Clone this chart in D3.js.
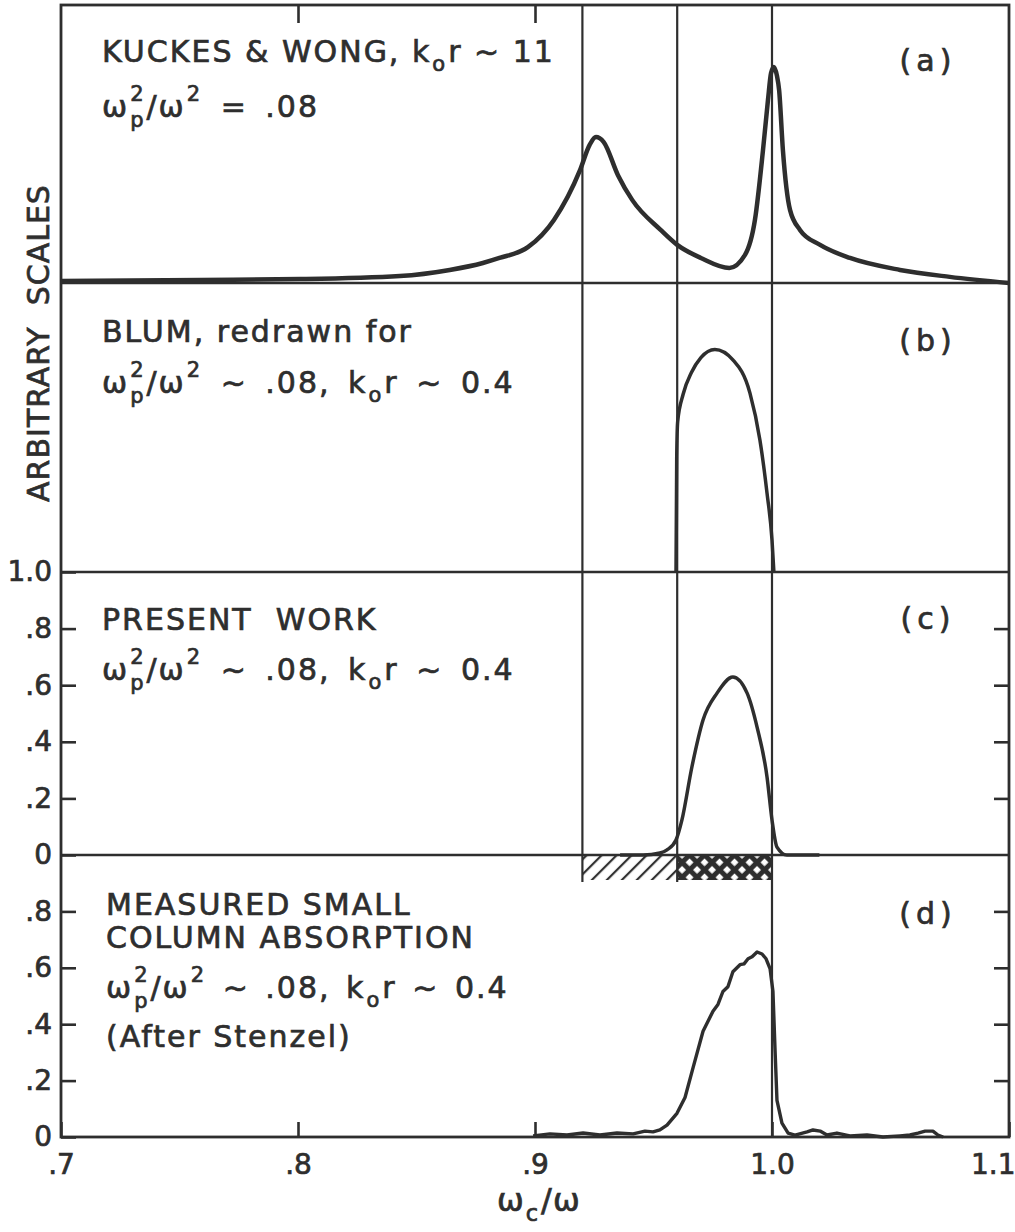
<!DOCTYPE html>
<html>
<head>
<meta charset="utf-8">
<script src="https://cdn.jsdelivr.net/npm/d3@7"></script>
<style>
  body { margin: 0; background: #fff; }
  text { font-family: "DejaVu Sans", sans-serif; fill: #2e2e2e; stroke: #2e2e2e; stroke-width: 0.7px; white-space: pre; }
</style>
</head>
<body>
<svg width="1015" height="1232"></svg>
<script>
// values: x is wc/w, y is arbitrary / absorption units
const xTicks = [0.7, 0.8, 0.9, 1.0, 1.1];
const xTickLabels = [".7", ".8", ".9", "1.0", "1.1"];
const yTicks = [0, 0.2, 0.4, 0.6, 0.8, 1.0];
const yTickLabels = ["0", ".2", ".4", ".6", ".8", "1.0"];
const guideLines = [0.92, 0.96, 1.0];
const hatchBands = [[0.92, 0.96, "diag"], [0.96, 1.0, "cross"]];

const kuckesWong = [
  [0.700, 0.007], [0.759, 0.011], [0.801, 0.014], [0.843, 0.025], [0.864, 0.047],
  [0.878, 0.072], [0.885, 0.090], [0.897, 0.129], [0.908, 0.227], [0.919, 0.406],
  [0.923, 0.496], [0.9257, 0.525], [0.929, 0.507], [0.935, 0.388], [0.941, 0.299],
  [0.953, 0.191], [0.960, 0.137], [0.970, 0.090], [0.982, 0.054], [0.9886, 0.101],
  [0.9928, 0.227], [0.9962, 0.478], [0.9983, 0.658], [0.9996, 0.755], [1.0008, 0.777],
  [1.0021, 0.745], [1.0030, 0.694], [1.0046, 0.478], [1.0076, 0.263], [1.0118, 0.191],
  [1.0203, 0.137], [1.0329, 0.090], [1.054, 0.047], [1.075, 0.022], [1.100, 0.000]
];

const blum = [
  [0.9595, 0], [0.9598, 0.40], [0.9602, 0.52], [0.9625, 0.615], [0.9660, 0.690],
  [0.9700, 0.742], [0.9759, 0.770], [0.9835, 0.734], [0.9907, 0.619], [0.9949, 0.457],
  [0.9979, 0.273], [1.0000, 0.111], [1.0008, 0]
];

const presentWork = [
  [0.9359, 0], [0.9456, 0], [0.9527, 0.007], [0.9557, 0.018], [0.9595, 0.053],
  [0.9620, 0.124], [0.9662, 0.311], [0.9709, 0.477], [0.9768, 0.572], [0.9835, 0.629],
  [0.9895, 0.572], [0.9937, 0.452], [0.9979, 0.276], [1.0000, 0.124], [1.0021, 0.028],
  [1.0063, 0], [1.0200, 0]
];

const stenzel = [
  [0.8992, 0.004], [0.9063, 0.011], [0.9135, 0.007], [0.9203, 0.014], [0.9274, 0.007],
  [0.9346, 0.014], [0.9414, 0.011], [0.9464, 0.021], [0.9498, 0.018], [0.9527, 0.025],
  [0.9557, 0.042], [0.9599, 0.084], [0.9633, 0.140], [0.9667, 0.246], [0.9709, 0.375],
  [0.9751, 0.446], [0.9772, 0.470], [0.9793, 0.516], [0.9814, 0.533], [0.9835, 0.586],
  [0.9865, 0.611], [0.9882, 0.614], [0.9899, 0.632], [0.9916, 0.639], [0.9937, 0.656],
  [0.9958, 0.649], [0.9975, 0.632], [0.9992, 0.596], [1.0004, 0.516], [1.0013, 0.305],
  [1.0021, 0.130], [1.0042, 0.049], [1.0068, 0.014], [1.0097, 0.007], [1.0148, 0.018],
  [1.0173, 0.025], [1.0203, 0.021], [1.0232, 0.007], [1.0274, 0.014], [1.0329, 0.004],
  [1.0401, 0.007], [1.0468, 0], [1.0540, 0.004], [1.0582, 0.007], [1.0616, 0.014],
  [1.0646, 0.021], [1.0679, 0.021], [1.0700, 0.007], [1.0722, 0]
];

const ink = "#2e2e2e";
const svg = d3.select("svg");

const x = d3.scaleLinear().domain([0.7, 1.1]).range([61, 1009]);
const yA = d3.scaleLinear().domain([0, 1]).range([283, 5]);
const yB = d3.scaleLinear().domain([0, 1]).range([572, 283]);
const yC = d3.scaleLinear().domain([0, 1]).range([855, 572]);
const yD = d3.scaleLinear().domain([0, 1]).range([1137, 855]);

// hatch patterns
const defs = svg.append("defs");
defs.append("pattern")
    .attr("id", "diag")
    .attr("patternUnits", "userSpaceOnUse")
    .attr("width", 10.6).attr("height", 10.6)
    .attr("patternTransform", "rotate(45)")
  .append("line")
    .attr("x1", 2).attr("y1", 0).attr("x2", 2).attr("y2", 10.6)
    .attr("stroke", ink).attr("stroke-width", 2.2);
const cross = defs.append("pattern")
    .attr("id", "cross")
    .attr("patternUnits", "userSpaceOnUse")
    .attr("width", 10.6).attr("height", 10.6)
    .attr("patternTransform", "rotate(45)");
cross.append("rect").attr("width", 10.6).attr("height", 10.6).attr("fill", ink);
cross.append("rect").attr("x", 2.8).attr("y", 2.8).attr("width", 5.6).attr("height", 5.6).attr("fill", "#fff");

// hatched bands under panel (c)
svg.append("g").selectAll("rect")
  .data(hatchBands)
  .enter().append("rect")
    .attr("x", d => x(d[0]))
    .attr("y", yC(0))
    .attr("width", d => x(d[1]) - x(d[0]))
    .attr("height", 25)
    .attr("fill", d => "url(#" + d[2] + ")");

// frame and panel dividers
svg.append("rect")
    .attr("x", x(0.7)).attr("y", yA(1))
    .attr("width", x(1.1) - x(0.7)).attr("height", yD(0) - yA(1))
    .attr("fill", "none").attr("stroke", ink).attr("stroke-width", 2.8);

svg.append("g").selectAll("line")
  .data([yA(0), yB(0), yC(0)])
  .enter().append("line")
    .attr("x1", x(0.7)).attr("x2", x(1.1))
    .attr("y1", d => d).attr("y2", d => d)
    .attr("stroke", ink).attr("stroke-width", 2.6);

// vertical reference lines
svg.append("g").selectAll("line")
  .data(guideLines)
  .enter().append("line")
    .attr("x1", d => x(d)).attr("x2", d => x(d))
    .attr("y1", yA(1))
    .attr("y2", d => d < 1 ? yC(0) + 27 : yD(0))
    .attr("stroke", ink).attr("stroke-width", 2.2);

function styleAxis(g, size) {
  g.select(".domain").remove();
  g.attr("font-family", null).attr("font-size", null);
  g.selectAll("line").attr("stroke", ink).attr("stroke-width", 2.6);
  g.selectAll("text").attr("fill", ink).style("font-size", size + "px");
}

svg.append("g").attr("transform", `translate(${x(0.7)},0)`)
  .call(d3.axisLeft(yC).tickValues(yTicks).tickFormat((d, i) => yTickLabels[i]).tickSize(-15).tickPadding(9))
  .call(g => styleAxis(g, 28));
svg.append("g").attr("transform", `translate(${x(0.7)},0)`)
  .call(d3.axisLeft(yD).tickValues(yTicks.slice(0, 5)).tickFormat((d, i) => yTickLabels[i]).tickSize(-15).tickPadding(9))
  .call(g => styleAxis(g, 28));
[yC, yD].forEach(s => {
  svg.append("g").attr("transform", `translate(${x(1.1)},0)`)
    .call(d3.axisRight(s).tickValues(yTicks.slice(1, 5)).tickFormat("").tickSize(-15))
    .call(g => styleAxis(g, 28));
});
svg.append("g").attr("transform", `translate(0,${yD(0)})`)
  .call(d3.axisBottom(x).tickValues(xTicks).tickFormat((d, i) => xTickLabels[i]).tickSize(-15).tickPadding(17))
  .call(g => styleAxis(g, 28))
  .call(g => g.selectAll(".tick:last-of-type text").attr("text-anchor", "end").attr("x", 6));
svg.append("g").attr("transform", `translate(0,${yA(1)})`)
  .call(d3.axisTop(x).tickValues([0.8, 0.9]).tickFormat("").tickSize(-18))
  .call(g => styleAxis(g, 28));

// curves
function curve(data, ys, width, type) {
  svg.append("path")
    .datum(data)
    .attr("fill", "none")
    .attr("stroke", ink)
    .attr("stroke-width", width)
    .attr("stroke-linejoin", "round")
    .attr("d", d3.line().x(d => x(d[0])).y(d => ys(d[1])).curve(type));
}
curve(kuckesWong, yA, 4.5, d3.curveMonotoneX);
curve(blum, yB, 3.5, d3.curveMonotoneX);
curve(presentWork, yC, 3.5, d3.curveMonotoneX);
curve(stenzel, yD, 3.4, d3.curveLinear);

// lettering with sub/superscripts
function rich(x0, y0, parts, size, spacing, wordGap) {
  let cx = x0;
  const small = size * 0.7;
  const up = -size * 0.52, down = size * 0.3;
  parts.forEach(p => {
    if (p[0] === "n") {
      const t = svg.append("text").attr("x", cx).attr("y", y0)
        .style("font-size", size + "px")
        .style("letter-spacing", spacing + "px")
        .style("word-spacing", (wordGap || 0) + "px")
        .text(p[1]);
      cx += t.node().getComputedTextLength();
    } else if (p[0] === "sup" || p[0] === "sub") {
      const t = svg.append("text").attr("x", cx + 1)
        .attr("y", y0 + (p[0] === "sup" ? up : down))
        .style("font-size", small + "px").text(p[1]);
      cx += t.node().getComputedTextLength() + 4;
    } else {
      const a = svg.append("text").attr("x", cx + 1).attr("y", y0 + up)
        .style("font-size", small + "px").text(p[1]);
      const b = svg.append("text").attr("x", cx + 1).attr("y", y0 + down + 1)
        .style("font-size", small + "px").text(p[2]);
      cx += Math.max(a.node().getComputedTextLength(), b.node().getComputedTextLength()) + 4;
    }
  });
}

const F = 30;
const S = 2;
const omegaLine = [["n", "ω"], ["ss", "2", "p"], ["n", "/ω"], ["sup", "2"], ["n", " ~ .08, k"], ["sub", "o"], ["n", "r ~ 0.4"]];

rich(102, 62, [["n", "KUCKES & WONG, k"], ["sub", "o"], ["n", "r ~ 11"]], F, S);
rich(102, 117, [["n", "ω"], ["ss", "2", "p"], ["n", "/ω"], ["sup", "2"], ["n", " = .08"]], F, S, 6);

rich(102, 342, [["n", "BLUM, redrawn for"]], F, S);
rich(102, 393, omegaLine, F, S, 6);

rich(102, 630, [["n", "PRESENT  WORK"]], F, S);
rich(102, 680, omegaLine, F, S, 6);

rich(106, 915, [["n", "MEASURED SMALL"]], F, S);
rich(106, 948, [["n", "COLUMN ABSORPTION"]], F, S);
rich(106, 998, omegaLine, F, S, 4);
rich(106, 1047, [["n", "(After Stenzel)"]], F, S);

const panelTags = ["(a)", "(b)", "(c)", "(d)"];
const tagBase = [71, 351, 629, 924];
panelTags.forEach((t, i) => {
  svg.append("text").attr("x", 928).attr("y", tagBase[i])
    .attr("text-anchor", "middle")
    .style("font-size", "30px").style("letter-spacing", "5px")
    .text(t);
});

// axis titles
svg.append("text")
    .attr("transform", "translate(49,343) rotate(-90)")
    .attr("text-anchor", "middle")
    .style("font-size", "30px").style("letter-spacing", "1px")
    .text("ARBITRARY  SCALES");

rich(497, 1211, [["n", "ω"], ["sub", "c"], ["n", "/ω"]], 32, 1);
</script>
</body>
</html>
